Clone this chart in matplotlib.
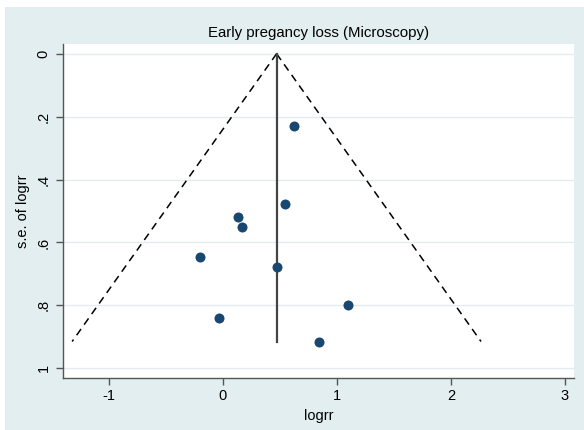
import numpy as np
import matplotlib
matplotlib.use('Agg')
import matplotlib.pyplot as plt
from matplotlib.patches import Rectangle

plt.rcParams['font.family'] = ['Liberation Sans', 'DejaVu Sans']

#----- data -----
title = 'Early pregancy loss (Microscopy)'
logrr = [0.625, 0.544, 0.129, 0.169, -0.202, 0.476, -0.032, 1.096, 0.845]
se_logrr = [0.230, 0.477, 0.520, 0.552, 0.645, 0.677, 0.841, 0.798, 0.915]
pooled = 0.471
xticks = [-1, 0, 1, 2, 3]
xticklabels = ['-1', '0', '1', '2', '3']
yticks = [0, 0.2, 0.4, 0.6, 0.8, 1.0]
yticklabels = ['0', '.2', '.4', '.6', '.8', '1']

bg = '#e3eef0'
grid = '#e2ecf0'
dot = '#1a476f'
axcol = '#555555'

fig = plt.figure(figsize=(5.84, 4.30), dpi=100)
fig.patch.set_facecolor('white')
fig.patches.append(Rectangle((5 / 584, 0), 1, 1 - 7 / 430, transform=fig.transFigure,
                             facecolor=bg, edgecolor='none', zorder=-10))

ax = fig.add_axes([63.3 / 584, 1 - 378.3 / 430, (574 - 63.3) / 584, (378.3 - 44) / 430])
ax.set_facecolor('white')

# funnel limits: pooled +/- 1.96*se
se_max = max(se_logrr)
s = np.array([0, se_max])
ax.plot(pooled - 1.96 * s, s, color='black', lw=1.1, ls=(0, (5, 3.5)), zorder=2)
ax.plot(pooled + 1.96 * s, s, color='black', lw=1.1, ls=(0, (5, 3.5)), zorder=2)
ax.plot([pooled, pooled], [0, se_max], color='#444444', lw=1.6, zorder=2)

ax.scatter(logrr, se_logrr, s=52, color=dot, zorder=3, linewidths=0)

for y in yticks:
    ax.axhline(y, color=grid, lw=1.0, zorder=1)

ax.set_xlim(-1.40, 3.08)
ax.set_ylim(1.032, -0.031)
ax.set_xticks(xticks)
ax.set_xticklabels(xticklabels, fontsize=10.5)
ax.set_yticks(yticks)
ax.set_yticklabels(yticklabels, fontsize=10.5, rotation=90, va='center')

for side in ['top', 'right']:
    ax.spines[side].set_visible(False)
for side in ['left', 'bottom']:
    ax.spines[side].set_color(axcol)
    ax.spines[side].set_linewidth(1.0)
ax.tick_params(axis='both', direction='out', length=5, width=1.0, color=axcol, labelcolor='black')
ax.tick_params(axis='x', pad=3)
ax.tick_params(axis='y', pad=4)

ax.set_title(title, fontsize=10.8, pad=5)
ax.set_xlabel('logrr', fontsize=10.5, labelpad=4)
ax.set_ylabel('s.e. of logrr', fontsize=10.5, labelpad=5)

fig.savefig('out.png', dpi=100, facecolor=fig.get_facecolor())
